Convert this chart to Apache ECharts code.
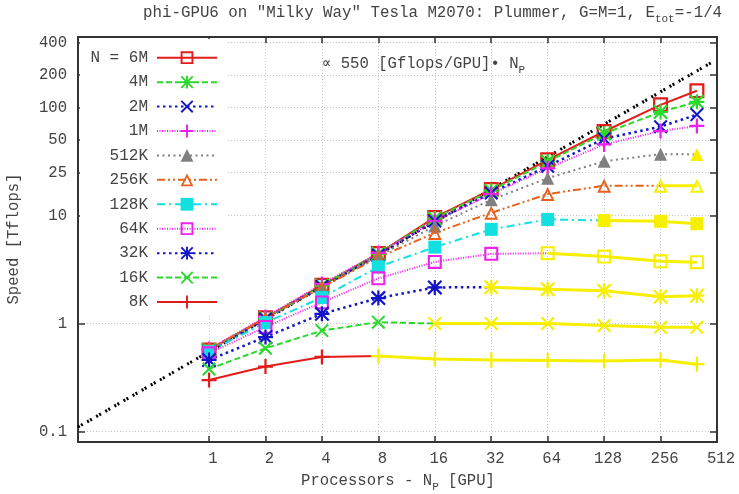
<!DOCTYPE html>
<html><head><meta charset="utf-8">
<script src="https://cdn.jsdelivr.net/npm/echarts@6/dist/echarts.min.js"></script>
<style>html,body{margin:0;padding:0;background:#fff}#c{width:739px;height:494px}</style>
</head><body><div id="c"></div>
<script>
// ---- data ----
const processors = [1, 2, 4, 8, 16, 32, 64, 128, 256, 400];
const seriesNames = ['N = 6M', '4M', '2M', '1M', '512K', '256K', '128K', '64K', '32K', '16K', '8K'];
const speed6M   = [0.57, 1.13, 2.26, 4.45, 9.6, 17.4, 32.8, 60.0, 106, 143];
const speed4M   = [0.57, 1.12, 2.25, 4.42, 9.4, 17.0, 31.6, 57.6, 91.0, 113];
const speed2M   = [0.55, 1.10, 2.20, 4.30, 8.9, 16.2, 28.6, 51.5, 66.5, 86.0];
const speed1M   = [0.58, 1.15, 2.32, 4.50, 8.9, 15.8, 27.4, 45.5, 60.5, 67.5];
const speed512K = [0.57, 1.10, 2.20, 4.20, 8.0, 14.0, 22.2, 31.8, 37.0, 36.8];
const speed256K = [0.58, 1.12, 2.16, 4.10, 6.9, 10.6, 15.8, 18.9, 18.9, 18.9];
const speed128K = [0.55, 1.02, 1.74, 3.35, 5.1, 7.45, 9.2, 9.0, 8.85, 8.4];
const speed64K  = [0.53, 0.93, 1.57, 2.62, 3.72, 4.42, 4.48, 4.17, 3.77, 3.70];
const speed32K  = [0.46, 0.75, 1.23, 1.72, 2.16, 2.17, 2.08, 2.01, 1.77, 1.81];
const speed16K  = [0.38, 0.59, 0.86, 1.03, 1.00, 1.00, 1.00, 0.96, 0.925, 0.925];
const speed8K   = [0.30, 0.40, 0.49, 0.50, 0.47, 0.46, 0.455, 0.45, 0.46, 0.42];
// index of the first point drawn in yellow (saturated); 10 = none
const yellowFrom = [10, 10, 10, 10, 9, 8, 7, 6, 5, 4, 3];
const xTicks = [1, 2, 4, 8, 16, 32, 64, 128, 256, 512];
const yTicks = [0.1, 1, 10, 25, 50, 100, 200, 400];
const idealX = [0.2, 480];
const idealY = [0.11, 262];

// ---- styles ----
const FONT = "'Liberation Mono','DejaVu Sans Mono',monospace";
const TXT = '#444';
const PLUS = 'M8.5,0H11.5V8.5H20V11.5H11.5V20H8.5V11.5H0V8.5H8.5Z';
const CROSS = 'M0,2.1L2.1,0L20,17.9L17.9,20Z M17.9,0L20,2.1L2.1,20L0,17.9Z';
const SYM = {
  sqOpen: 'path://M0,0H20V20H0Z M3,3V17H17V3Z',
  triOpen: 'path://M10,0L20,18L0,18Z M10,5.4L4.4,15.4L15.6,15.4Z',
  plus: 'path://' + PLUS,
  cross: 'path://' + CROSS,
  star: 'path://' + PLUS + ' ' + CROSS,
  tri: 'triangle',
  sq: 'rect'
};
const YELLOW = '#f7ef00';
const styles = [
  {c: '#e41b1b', t: 'solid', w: 2, s: SYM.sqOpen, z: 15},
  {c: '#2bd92b', t: [6, 3], w: 2, s: SYM.star, z: 15},
  {c: '#1515c8', t: [2.5, 3.5], w: 2.5, s: SYM.cross, z: 14},
  {c: '#ec22ec', t: [1, 1.5], w: 2, s: SYM.plus, z: 15},
  {c: '#808080', t: [2, 3.5], w: 2, s: SYM.tri, z: 13},
  {c: '#e8601c', t: [8, 3, 2, 3, 2, 3], w: 2, s: SYM.triOpen, z: 14},
  {c: '#12e0e0', t: [8, 4, 2, 4], w: 2, s: SYM.sq, z: 13},
  {c: '#ec22ec', t: [1, 1.5], w: 2, s: SYM.sqOpen, z: 14},
  {c: '#1515c8', t: [2.5, 3.5], w: 2.5, s: SYM.star, z: 15},
  {c: '#2bd92b', t: [6, 3], w: 2, s: SYM.cross, z: 14},
  {c: '#e41b1b', t: 'solid', w: 2, s: SYM.plus, z: 15}
];
const allSpeeds = [speed6M, speed4M, speed2M, speed1M, speed512K, speed256K, speed128K, speed64K, speed32K, speed16K, speed8K];

const series = [];
series.push({
  type: 'line', name: 'ideal', data: idealX.map((x, i) => [x, idealY[i]]),
  symbol: 'none', lineStyle: {color: '#000', width: 3, type: [2, 1.5, 2, 5]}, z: 2, silent: true
});
allSpeeds.forEach((arr, k) => {
  const st = styles[k];
  const yf = yellowFrom[k];
  const main = [];
  for (let i = 0; i < arr.length && i <= yf; i++) {
    if (i === yf) main.push({value: [processors[i], arr[i]], symbol: 'none'});
    else main.push([processors[i], arr[i]]);
  }
  series.push({
    type: 'line', name: seriesNames[k], data: main, symbol: st.s, symbolSize: st.z,
    lineStyle: {color: st.c, width: st.w, type: st.t}, itemStyle: {color: st.c},
    z: 3, silent: true
  });
});
allSpeeds.forEach((arr, k) => {
  const st = styles[k];
  const yf = yellowFrom[k];
  if (yf >= arr.length) return;
  const pts = [];
  for (let i = yf; i < arr.length; i++) pts.push([processors[i], arr[i]]);
  series.push({
    type: 'line', name: seriesNames[k] + ' sat', data: pts, symbol: st.s, symbolSize: st.z,
    lineStyle: {color: YELLOW, width: 3, type: 'solid'}, itemStyle: {color: YELLOW},
    z: 4, silent: true
  });
});

const axisLine = {show: true, lineStyle: {color: '#333', width: 2}};
const labelStyle = {color: TXT, fontFamily: FONT, fontSize: 15.6};
const gridLine = {show: true, lineStyle: {color: '#c2c2c2', width: 1, type: [1, 2]}};

const option = {
  animation: false,
  backgroundColor: '#fff',
  grid: {left: 78, right: 22, top: 37, bottom: 52, containLabel: false, outerBoundsMode: 'none'},
  xAxis: [
    {type: 'log', logBase: 2, min: 0.2, max: 512, position: 'bottom', axisLine,
     axisTick: {show: true, inside: true, length: 6, customValues: xTicks, lineStyle: {color: '#333', width: 1.5}},
     axisLabel: Object.assign({customValues: xTicks, formatter: v => String(Math.round(v)), margin: 9, padding: [0, 0, 0, 8]}, labelStyle),
     splitLine: gridLine, minorTick: {show: false}, minorSplitLine: {show: false}},
    {type: 'log', logBase: 2, min: 0.2, max: 512, position: 'top', axisLine,
     axisTick: {show: true, inside: true, length: 6, customValues: xTicks, lineStyle: {color: '#333', width: 1.5}},
     axisLabel: {show: false}, splitLine: {show: false}}
  ],
  yAxis: [
    {type: 'log', logBase: 10, min: 0.08, max: 450, position: 'left', axisLine,
     axisTick: {show: true, inside: true, length: 7, customValues: yTicks, lineStyle: {color: '#333', width: 1.5}},
     axisLabel: Object.assign({customValues: yTicks, formatter: v => String(v), margin: 11}, labelStyle),
     splitLine: gridLine, minorTick: {show: false}, minorSplitLine: {show: false}},
    {type: 'log', logBase: 10, min: 0.08, max: 450, position: 'right', axisLine,
     axisTick: {show: true, inside: true, length: 7, customValues: yTicks, lineStyle: {color: '#333', width: 1.5}},
     axisLabel: {show: false}, splitLine: {show: false}}
  ],
  legend: {
    data: seriesNames, orient: 'vertical', align: 'right', right: 521, top: 49.7, padding: 0,
    itemWidth: 60, itemHeight: 16, itemGap: 8.43, selectedMode: false,
    textStyle: {color: TXT, fontFamily: FONT, fontSize: 16, padding: [0, 4, 0, 0]}
  },
  graphic: [
    {type: 'rect', z: 1, silent: true, shape: {x: 80, y: 39, width: 148, height: 277}, style: {fill: '#fff'}},
    {type: 'text', z: 10, x: 143, y: 13, style: {
      text: 'phi-GPU6 on "Milky Way" Tesla M2070: Plummer, G=M=1, E{sub|tot}=-1/4',
      fill: TXT, fontFamily: FONT, fontSize: 15.8, verticalAlign: 'middle', align: 'left',
      rich: {sub: {fontFamily: FONT, fontSize: 11, fill: TXT, verticalAlign: 'bottom', padding: [12, 0, 0, 0]}}}},
    {type: 'text', z: 10, x: 322, y: 64, style: {
      text: '\u221d 550 [Gflops/GPU]\u2022 N{sub|P}',
      fill: TXT, fontFamily: FONT, fontSize: 15.6, verticalAlign: 'middle', align: 'left',
      rich: {sub: {fontFamily: FONT, fontSize: 11, fill: TXT, verticalAlign: 'bottom', padding: [12, 0, 0, 0]}}}},
    {type: 'text', z: 10, x: 398, y: 481, style: {
      text: 'Processors - N{sub|P} [GPU]',
      fill: TXT, fontFamily: FONT, fontSize: 15.6, verticalAlign: 'middle', align: 'center',
      rich: {sub: {fontFamily: FONT, fontSize: 11, fill: TXT, verticalAlign: 'bottom', padding: [12, 0, 0, 0]}}}},
    {type: 'text', z: 10, x: 14, y: 239, rotation: Math.PI / 2, style: {
      text: 'Speed [Tflops]', fill: TXT, fontFamily: FONT, fontSize: 15.6, verticalAlign: 'middle', align: 'center'}}
  ],
  series
};
const chart = echarts.init(document.getElementById('c'), null, {renderer: 'canvas'});
chart.setOption(option);
</script></body></html>
